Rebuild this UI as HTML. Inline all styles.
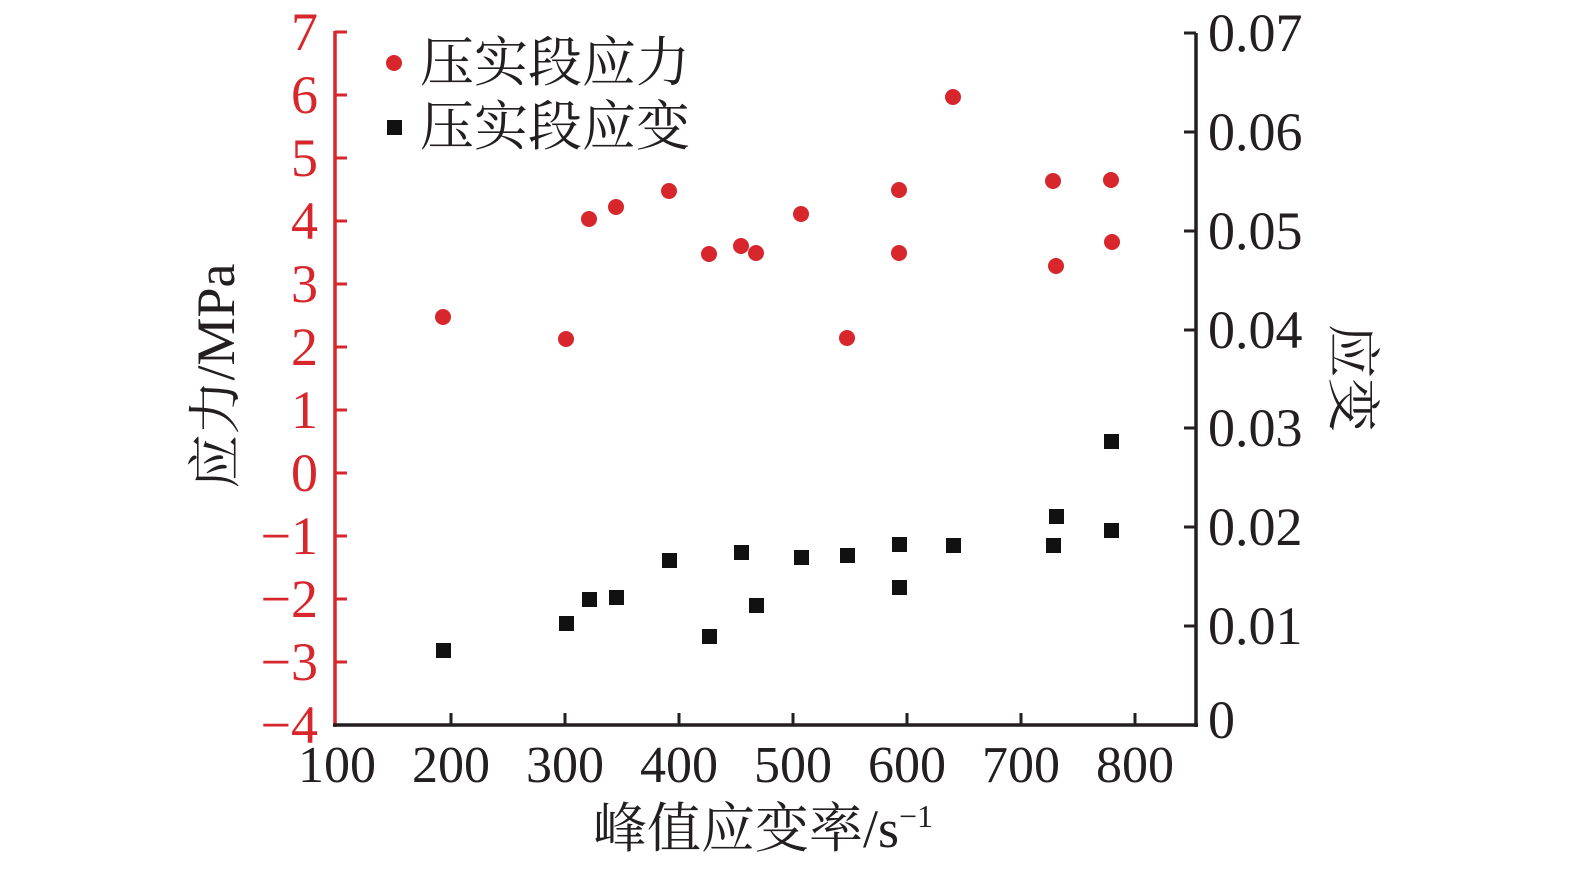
<!DOCTYPE html>
<html><head><meta charset="utf-8"><style>
html,body{margin:0;padding:0;background:#fff;}
svg text{font-family:"Liberation Serif","Noto Serif CJK SC",serif;}
</style></head><body>
<svg width="1575" height="869" viewBox="0 0 1575 869" xmlns="http://www.w3.org/2000/svg">
<g stroke-width="3.5" fill="none">
<line x1="335" y1="31" x2="335" y2="727" stroke="#d7262c"/>
<line x1="333" y1="725" x2="1198" y2="725" stroke="#231f20"/>
<line x1="1196" y1="33" x2="1196" y2="727" stroke="#231f20"/>
</g>
<g stroke="#d7262c" stroke-width="3">
<line x1="335" y1="32" x2="347" y2="32"/><line x1="335" y1="95" x2="347" y2="95"/><line x1="335" y1="158" x2="347" y2="158"/><line x1="335" y1="221" x2="347" y2="221"/><line x1="335" y1="284" x2="347" y2="284"/><line x1="335" y1="347" x2="347" y2="347"/><line x1="335" y1="410" x2="347" y2="410"/><line x1="335" y1="473" x2="347" y2="473"/><line x1="335" y1="536" x2="347" y2="536"/><line x1="335" y1="599" x2="347" y2="599"/><line x1="335" y1="662" x2="347" y2="662"/>
</g>
<g stroke="#231f20" stroke-width="3">
<line x1="451" y1="725" x2="451" y2="713"/><line x1="565" y1="725" x2="565" y2="713"/><line x1="679" y1="725" x2="679" y2="713"/><line x1="793" y1="725" x2="793" y2="713"/><line x1="907" y1="725" x2="907" y2="713"/><line x1="1021" y1="725" x2="1021" y2="713"/><line x1="1135" y1="725" x2="1135" y2="713"/>
<line x1="1184" y1="33" x2="1196" y2="33"/><line x1="1184" y1="132" x2="1196" y2="132"/><line x1="1184" y1="231" x2="1196" y2="231"/><line x1="1184" y1="330" x2="1196" y2="330"/><line x1="1184" y1="428" x2="1196" y2="428"/><line x1="1184" y1="527" x2="1196" y2="527"/><line x1="1184" y1="626" x2="1196" y2="626"/>
</g>
<g fill="#d7262c" font-size="54" text-anchor="end">
<text x="318" y="50">7</text><text x="318" y="113">6</text><text x="318" y="176">5</text><text x="318" y="239">4</text><text x="318" y="302">3</text><text x="318" y="365">2</text><text x="318" y="428">1</text><text x="318" y="491">0</text><text x="318" y="554">−1</text><text x="318" y="617">−2</text><text x="318" y="680">−3</text><text x="318" y="743">−4</text>
</g>
<g fill="#231f20" font-size="54">
<text x="1208" y="51">0.07</text><text x="1208" y="150">0.06</text><text x="1208" y="249">0.05</text><text x="1208" y="348">0.04</text><text x="1208" y="446">0.03</text><text x="1208" y="545">0.02</text><text x="1208" y="644">0.01</text><text x="1208" y="738">0</text>
</g>
<g fill="#231f20" font-size="52" text-anchor="middle">
<text x="337" y="782">100</text><text x="451" y="782">200</text><text x="565" y="782">300</text><text x="679" y="782">400</text><text x="793" y="782">500</text><text x="907" y="782">600</text><text x="1021" y="782">700</text><text x="1135" y="782">800</text>
</g>
<text x="763" y="847" font-size="54" fill="#231f20" text-anchor="middle">峰值应变率/s<tspan dy="-20" font-size="32">−1</tspan></text>
<text transform="translate(234,376) rotate(-90)" font-size="54" fill="#231f20" text-anchor="middle">应力/MPa</text>
<text transform="translate(1334,378) rotate(90)" font-size="54" fill="#231f20" text-anchor="middle">应变</text>
<circle cx="394" cy="63" r="8" fill="#d7262c"/>
<text x="420" y="81" font-size="54" fill="#231f20">压实段应力</text>
<rect x="387" y="120" width="15" height="15" fill="#111"/>
<text x="420" y="145" font-size="54" fill="#231f20">压实段应变</text>
<g fill="#d7262c">
<circle cx="443" cy="317" r="8"/><circle cx="566" cy="339" r="8"/><circle cx="589" cy="219" r="8"/><circle cx="616" cy="207" r="8"/><circle cx="669" cy="191" r="8"/><circle cx="709" cy="254" r="8"/><circle cx="741" cy="246" r="8"/><circle cx="756" cy="253" r="8"/><circle cx="801" cy="214" r="8"/><circle cx="847" cy="338" r="8"/><circle cx="899" cy="190" r="8"/><circle cx="899" cy="253" r="8"/><circle cx="953" cy="97" r="8"/><circle cx="1053" cy="181" r="8"/><circle cx="1056" cy="266" r="8"/><circle cx="1111" cy="180" r="8"/><circle cx="1112" cy="242" r="8"/>
</g>
<g fill="#111">
<rect x="436" y="643" width="15" height="15"/><rect x="559" y="616" width="15" height="15"/><rect x="582" y="592" width="15" height="15"/><rect x="609" y="590" width="15" height="15"/><rect x="662" y="553" width="15" height="15"/><rect x="702" y="629" width="15" height="15"/><rect x="734" y="545" width="15" height="15"/><rect x="749" y="598" width="15" height="15"/><rect x="794" y="550" width="15" height="15"/><rect x="840" y="548" width="15" height="15"/><rect x="892" y="537" width="15" height="15"/><rect x="892" y="580" width="15" height="15"/><rect x="946" y="538" width="15" height="15"/><rect x="1046" y="538" width="15" height="15"/><rect x="1049" y="509" width="15" height="15"/><rect x="1104" y="523" width="15" height="15"/><rect x="1104" y="434" width="15" height="15"/>
</g>
</svg>
</body></html>
